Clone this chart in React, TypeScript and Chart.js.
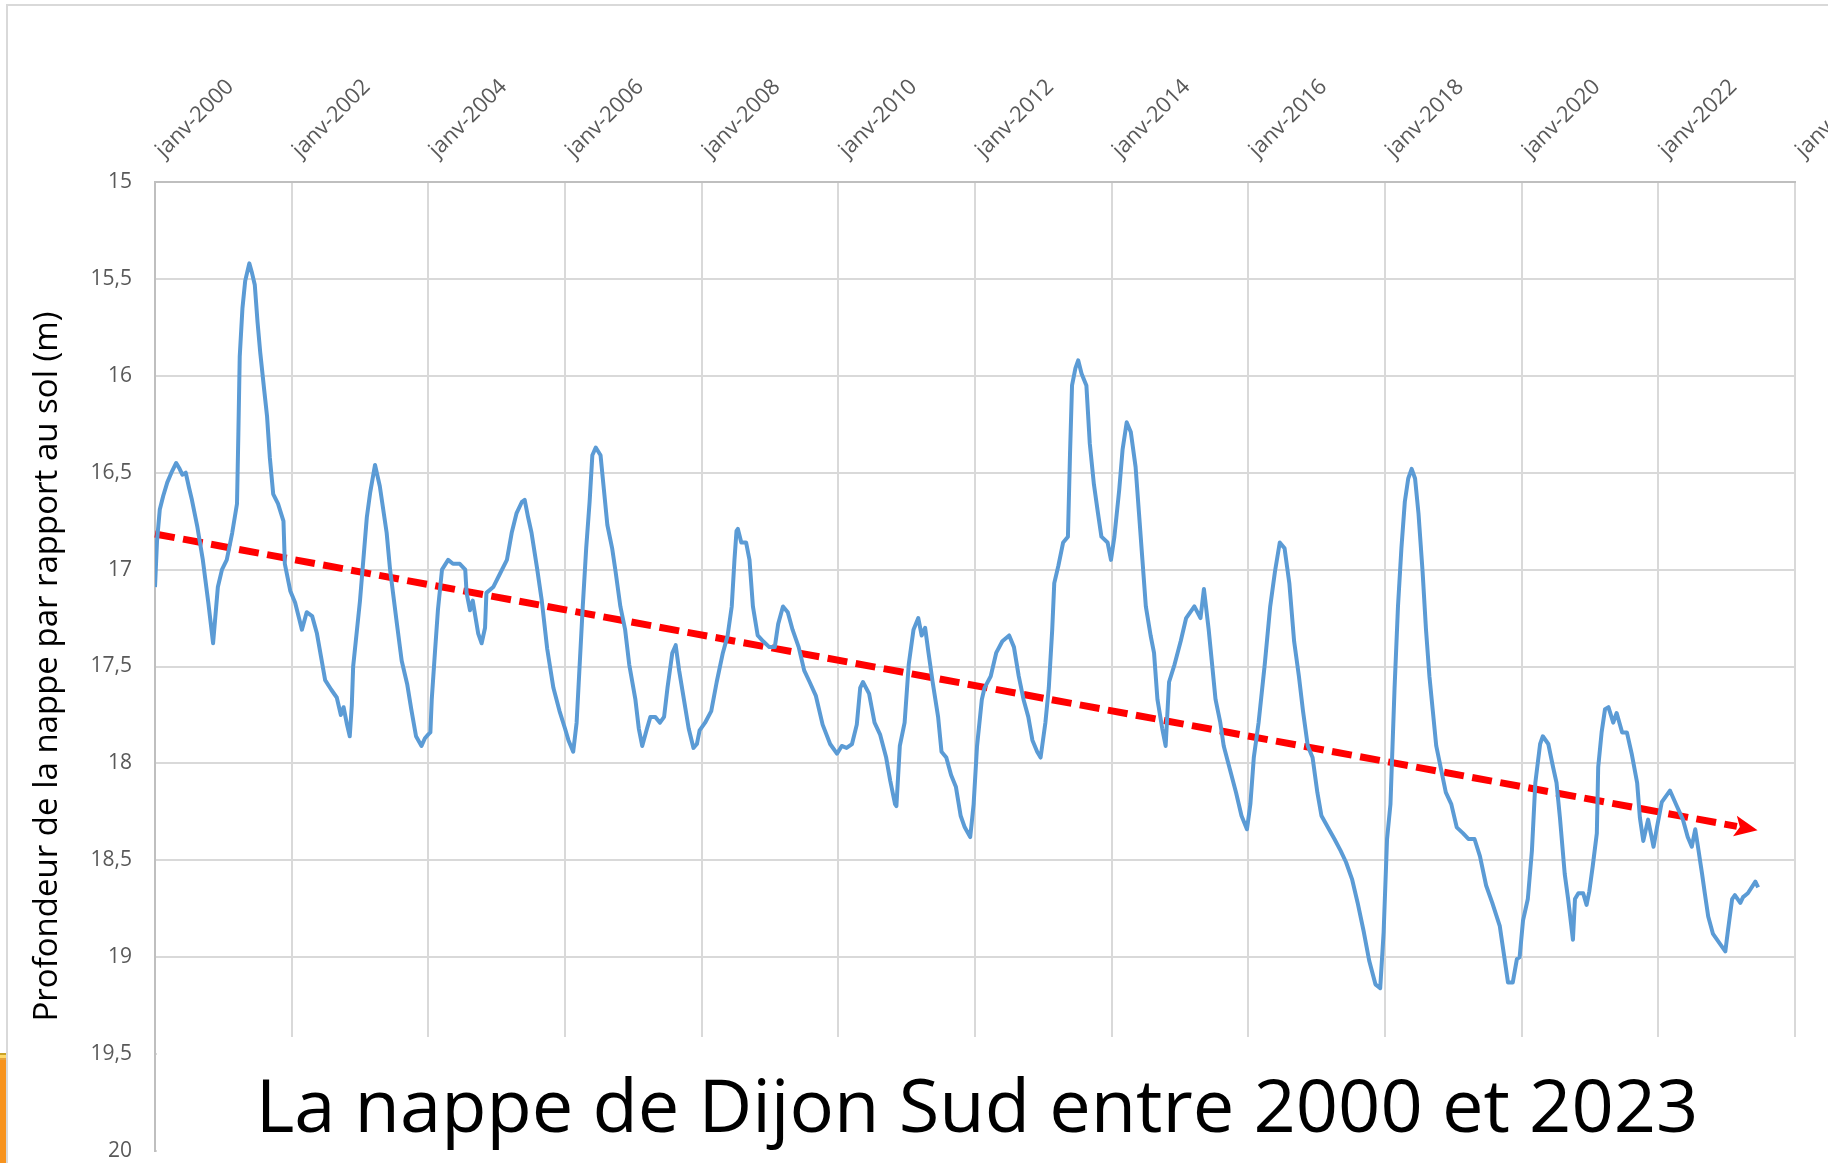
import React, { useEffect, useRef } from 'react';
import { Chart, registerables } from 'chart.js';

Chart.register(...registerables);

// Observation dates (decimal years) and groundwater depth below ground (m)
const obsDates = [
  2000.00, 2000.03, 2000.07, 2000.12, 2000.18, 2000.24, 2000.31, 2000.36, 2000.40, 2000.45,
  2000.50, 2000.54, 2000.62, 2000.70, 2000.78, 2000.85, 2000.92, 2000.98, 2001.05, 2001.13,
  2001.20, 2001.22, 2001.24, 2001.28, 2001.32, 2001.38, 2001.42, 2001.46, 2001.50, 2001.54,
  2001.60, 2001.64, 2001.68, 2001.73, 2001.80, 2001.88, 2001.90, 2001.98, 2002.05, 2002.10,
  2002.15, 2002.22, 2002.30, 2002.37, 2002.43, 2002.49, 2002.58, 2002.66, 2002.72, 2002.76,
  2002.81, 2002.85, 2002.88, 2002.90, 2003.00, 2003.10, 2003.15, 2003.22, 2003.29, 2003.39,
  2003.44, 2003.54, 2003.61, 2003.69, 2003.75, 2003.82, 2003.90, 2003.95, 2004.00, 2004.03,
  2004.05, 2004.10, 2004.14, 2004.20, 2004.29, 2004.36, 2004.46, 2004.54, 2004.56, 2004.61,
  2004.65, 2004.73, 2004.78, 2004.83, 2004.85, 2004.95, 2005.05, 2005.15, 2005.22, 2005.29,
  2005.37, 2005.41, 2005.46, 2005.51, 2005.59, 2005.66, 2005.74, 2005.83, 2005.92, 2006.00,
  2006.05, 2006.12, 2006.17, 2006.26, 2006.31, 2006.36, 2006.40, 2006.45, 2006.52, 2006.57,
  2006.62, 2006.69, 2006.74, 2006.81, 2006.88, 2006.94, 2007.03, 2007.08, 2007.13, 2007.20,
  2007.25, 2007.32, 2007.39, 2007.45, 2007.50, 2007.57, 2007.62, 2007.67, 2007.74, 2007.81,
  2007.88, 2007.93, 2007.97, 2008.05, 2008.14, 2008.22, 2008.31, 2008.38, 2008.44, 2008.48,
  2008.51, 2008.53, 2008.58, 2008.65, 2008.70, 2008.75, 2008.82, 2008.90, 2008.99, 2009.07,
  2009.12, 2009.19, 2009.26, 2009.33, 2009.42, 2009.50, 2009.58, 2009.67, 2009.77, 2009.88,
  2009.98, 2010.05, 2010.12, 2010.20, 2010.27, 2010.32, 2010.36, 2010.45, 2010.53, 2010.61,
  2010.70, 2010.76, 2010.83, 2010.85, 2010.90, 2010.97, 2011.03, 2011.10, 2011.17, 2011.22,
  2011.27, 2011.32, 2011.38, 2011.46, 2011.51, 2011.58, 2011.65, 2011.72, 2011.79, 2011.85,
  2011.93, 2011.98, 2012.03, 2012.10, 2012.14, 2012.23, 2012.31, 2012.40, 2012.50, 2012.57,
  2012.64, 2012.71, 2012.78, 2012.84, 2012.91, 2012.96, 2013.03, 2013.08, 2013.13, 2013.16,
  2013.22, 2013.29, 2013.36, 2013.39, 2013.42, 2013.47, 2013.51, 2013.56, 2013.63, 2013.68,
  2013.74, 2013.80, 2013.85, 2013.94, 2013.99, 2014.04, 2014.11, 2014.16, 2014.22, 2014.28,
  2014.35, 2014.40, 2014.45, 2014.50, 2014.57, 2014.62, 2014.67, 2014.74, 2014.79, 2014.84,
  2014.92, 2015.01, 2015.09, 2015.21, 2015.30, 2015.35, 2015.42, 2015.47, 2015.52, 2015.59,
  2015.64, 2015.73, 2015.82, 2015.90, 2015.98, 2016.03, 2016.08, 2016.15, 2016.24, 2016.32,
  2016.39, 2016.46, 2016.53, 2016.60, 2016.67, 2016.74, 2016.80, 2016.87, 2016.94, 2017.01,
  2017.07, 2017.18, 2017.26, 2017.35, 2017.43, 2017.52, 2017.60, 2017.69, 2017.77, 2017.86,
  2017.93, 2017.98, 2018.03, 2018.08, 2018.14, 2018.19, 2018.24, 2018.29, 2018.34, 2018.39,
  2018.44, 2018.49, 2018.55, 2018.60, 2018.65, 2018.70, 2018.75, 2018.82, 2018.89, 2018.97,
  2019.05, 2019.14, 2019.22, 2019.31, 2019.39, 2019.48, 2019.57, 2019.68, 2019.80, 2019.87,
  2019.93, 2019.97, 2020.02, 2020.09, 2020.15, 2020.20, 2020.27, 2020.31, 2020.39, 2020.46,
  2020.51, 2020.56, 2020.63, 2020.68, 2020.75, 2020.78, 2020.83, 2020.90, 2020.95, 2020.99,
  2021.04, 2021.10, 2021.12, 2021.17, 2021.22, 2021.27, 2021.34, 2021.39, 2021.47, 2021.54,
  2021.61, 2021.69, 2021.73, 2021.78, 2021.85, 2021.93, 2021.98, 2022.05, 2022.17, 2022.27,
  2022.36, 2022.43, 2022.49, 2022.54, 2022.58, 2022.64, 2022.68, 2022.73, 2022.80, 2022.90,
  2022.98, 2023.02, 2023.08, 2023.12, 2023.20, 2023.24, 2023.31, 2023.42, 2023.46,
];

const obsDepths = [
  17.09, 16.85, 16.69, 16.62, 16.55, 16.50, 16.45, 16.48, 16.51, 16.50,
  16.58, 16.64, 16.78, 16.95, 17.17, 17.38, 17.09, 17.00, 16.95, 16.81,
  16.66, 16.30, 15.90, 15.65, 15.51, 15.42, 15.47, 15.53, 15.72, 15.88,
  16.08, 16.21, 16.42, 16.61, 16.66, 16.75, 16.97, 17.11, 17.17, 17.24,
  17.31, 17.22, 17.24, 17.33, 17.45, 17.57, 17.62, 17.66, 17.75, 17.71,
  17.80, 17.86, 17.70, 17.50, 17.16, 16.73, 16.60, 16.46, 16.57, 16.81,
  17.00, 17.28, 17.47, 17.59, 17.72, 17.86, 17.91, 17.87, 17.85, 17.84,
  17.67, 17.41, 17.21, 17.00, 16.95, 16.97, 16.97, 17.00, 17.12, 17.21,
  17.16, 17.33, 17.38, 17.30, 17.12, 17.09, 17.02, 16.95, 16.81, 16.71,
  16.65, 16.64, 16.73, 16.81, 16.99, 17.16, 17.41, 17.61, 17.73, 17.82,
  17.88, 17.94, 17.79, 17.19, 16.89, 16.65, 16.41, 16.37, 16.41, 16.59,
  16.77, 16.89, 17.01, 17.19, 17.31, 17.49, 17.67, 17.82, 17.91, 17.82,
  17.76, 17.76, 17.79, 17.76, 17.61, 17.43, 17.39, 17.52, 17.67, 17.82,
  17.92, 17.90, 17.83, 17.79, 17.73, 17.58, 17.43, 17.34, 17.19, 16.95,
  16.80, 16.79, 16.86, 16.86, 16.95, 17.19, 17.34, 17.37, 17.40, 17.40,
  17.28, 17.19, 17.22, 17.31, 17.40, 17.52, 17.58, 17.65, 17.80, 17.90,
  17.95, 17.91, 17.92, 17.90, 17.80, 17.61, 17.58, 17.64, 17.79, 17.85,
  17.97, 18.09, 18.21, 18.22, 17.91, 17.79, 17.49, 17.31, 17.25, 17.34,
  17.30, 17.43, 17.58, 17.76, 17.94, 17.97, 18.06, 18.12, 18.27, 18.33,
  18.38, 18.21, 17.91, 17.67, 17.61, 17.55, 17.43, 17.37, 17.34, 17.40,
  17.55, 17.67, 17.76, 17.88, 17.94, 17.97, 17.79, 17.61, 17.31, 17.07,
  16.98, 16.86, 16.83, 16.41, 16.05, 15.96, 15.92, 15.99, 16.05, 16.35,
  16.56, 16.71, 16.83, 16.86, 16.95, 16.83, 16.59, 16.38, 16.24, 16.29,
  16.47, 16.71, 16.95, 17.19, 17.34, 17.43, 17.67, 17.82, 17.91, 17.58,
  17.49, 17.37, 17.25, 17.19, 17.25, 17.10, 17.31, 17.49, 17.67, 17.79,
  17.91, 18.03, 18.15, 18.27, 18.34, 18.21, 17.97, 17.79, 17.49, 17.19,
  17.01, 16.86, 16.89, 17.07, 17.37, 17.55, 17.73, 17.91, 17.97, 18.15,
  18.27, 18.34, 18.39, 18.45, 18.51, 18.60, 18.72, 18.87, 19.02, 19.14,
  19.16, 18.87, 18.39, 18.21, 17.61, 17.19, 16.89, 16.65, 16.53, 16.48,
  16.53, 16.71, 17.01, 17.31, 17.55, 17.73, 17.91, 18.03, 18.15, 18.21,
  18.33, 18.36, 18.39, 18.39, 18.48, 18.63, 18.72, 18.84, 19.13, 19.13,
  19.01, 19.00, 18.81, 18.70, 18.45, 18.10, 17.90, 17.86, 17.90, 18.02,
  18.10, 18.28, 18.57, 18.70, 18.91, 18.70, 18.67, 18.67, 18.73, 18.66,
  18.53, 18.36, 18.02, 17.84, 17.72, 17.71, 17.79, 17.74, 17.84, 17.84,
  17.95, 18.10, 18.28, 18.40, 18.29, 18.43, 18.33, 18.20, 18.14, 18.22,
  18.29, 18.38, 18.43, 18.34, 18.43, 18.57, 18.67, 18.79, 18.88, 18.93,
  18.97, 18.86, 18.70, 18.68, 18.72, 18.69, 18.67, 18.61, 18.64,
];

// Trend (dashed red arrow)
const trendDates = [2000, 2023.15];
const trendDepths = [16.816, 18.325];

// Axis ticks
const xTickYears = [2000, 2002, 2004, 2006, 2008, 2010, 2012, 2014, 2016, 2018, 2020, 2022, 2024];
const xTickPrefix = 'janv-';
const yTickValues = [15, 15.5, 16, 16.5, 17, 17.5, 18, 18.5, 19, 19.5, 20];

const yAxisTitle = 'Profondeur de la nappe par rapport au sol (m)';
const chartTitle = 'La nappe de Dijon Sud entre 2000 et 2023';

const FONT = "'Open Sans', 'Noto Sans', sans-serif";

const arrowPlugin = {
  id: 'trendArrow',
  afterDatasetsDraw(chart: any) {
    const meta = chart.getDatasetMeta(1);
    const pts = meta.data;
    if (!pts || pts.length < 2) return;
    const a = pts[pts.length - 2];
    const b = pts[pts.length - 1];
    const ang = Math.atan2(b.y - a.y, b.x - a.x);
    const ctx = chart.ctx;
    ctx.save();
    ctx.translate(b.x, b.y);
    ctx.rotate(ang);
    ctx.beginPath();
    ctx.moveTo(21, 0);
    ctx.lineTo(-2, -10.5);
    ctx.lineTo(3, 0);
    ctx.lineTo(-2, 10.5);
    ctx.closePath();
    ctx.fillStyle = '#FF0000';
    ctx.fill();
    ctx.restore();
  },
};

export default function App() {
  const canvasRef = useRef<HTMLCanvasElement | null>(null);

  useEffect(() => {
    if (!canvasRef.current) return;
    const levelData = obsDates.map((d, i) => ({ x: d, y: obsDepths[i] }));
    const trendData = trendDates.map((d, i) => ({ x: d, y: trendDepths[i] }));

    const chart = new Chart(canvasRef.current, {
      type: 'line',
      data: {
        datasets: [
          {
            data: levelData,
            borderColor: '#5B9BD5',
            borderWidth: 4,
            pointRadius: 0,
            tension: 0,
            borderJoinStyle: 'round',
            fill: false,
          },
          {
            data: trendData,
            borderColor: '#FF0000',
            borderWidth: 7,
            borderDash: [20, 8.5],
            borderCapStyle: 'butt',
            pointRadius: 0,
            tension: 0,
            fill: false,
            clip: false as any,
          },
        ],
      },
      options: {
        animation: false,
        responsive: false,
        events: [],
        layout: { padding: { left: 0, top: 0, right: 33, bottom: 12 } },
        plugins: {
          legend: { display: false },
          tooltip: { enabled: false },
          title: { display: false },
        },
        scales: {
          x: {
            type: 'linear',
            position: 'top',
            min: 2000,
            max: 2024,
            afterBuildTicks: (s: any) => {
              s.ticks = xTickYears.map((v) => ({ value: v }));
            },
            afterFit: (s: any) => {
              s.height = 182;
              s.paddingLeft = 0;
              s.paddingRight = 0;
            },
            grid: { color: '#d9d9d9', lineWidth: 2, drawTicks: false },
            border: { color: '#bfbfbf', width: 2 },
            ticks: {
              autoSkip: false,
              minRotation: 45,
              maxRotation: 45,
              padding: 27,
              labelOffset: 7,
              color: '#595959',
              font: { family: FONT, size: 22, lineHeight: 0.15 },
              callback: (v: any) => xTickPrefix + v,
            },
          },
          y: {
            type: 'linear',
            reverse: true,
            min: 15,
            max: 20,
            afterBuildTicks: (s: any) => {
              s.ticks = yTickValues.map((v) => ({ value: v }));
            },
            afterFit: (s: any) => {
              s.width = 155;
              s.paddingTop = 0;
              s.paddingBottom = 0;
            },
            grid: { color: '#d9d9d9', lineWidth: 2, drawTicks: false },
            border: { color: '#bfbfbf', width: 2 },
            ticks: {
              padding: 23,
              color: '#595959',
              font: { family: FONT, size: 21 },
              callback: (v: any) => String(v).replace('.', ','),
            },
            title: {
              display: true,
              text: yAxisTitle,
              color: '#000000',
              font: { family: FONT, size: 33 },
              padding: { top: 28, bottom: 0 },
            },
          },
        },
      },
      plugins: [arrowPlugin],
    } as any);

    return () => chart.destroy();
  }, []);

  return (
    <div
      style={{
        position: 'fixed',
        left: 0,
        top: 0,
        width: 1828,
        height: 1163,
        background: '#ffffff',
        overflow: 'hidden',
      }}
    >
      <canvas
        ref={canvasRef}
        width={1828}
        height={1163}
        style={{ position: 'absolute', left: 0, top: 0, width: 1828, height: 1163 }}
      />
      {/* slide frame */}
      <div
        style={{
          position: 'absolute',
          left: 6,
          top: 4,
          width: 1830,
          height: 1170,
          borderTop: '2px solid #d9d9d9',
          borderLeft: '2px solid #d9d9d9',
          boxSizing: 'border-box',
          pointerEvents: 'none',
        }}
      />
      {/* orange slide decoration */}
      <div
        style={{
          position: 'absolute',
          left: 0,
          top: 1053,
          width: 6,
          height: 110,
          background:
            'linear-gradient(#c9a227 0px, #c9a227 2px, #ffd966 2px, #ffd966 5px, #e6a23c 5px, #e6a23c 7px, #f7931e 7px)',
        }}
      />
      {/* title box */}
      <div
        style={{
          position: 'absolute',
          left: 157,
          top: 1037,
          width: 1640,
          height: 126,
          background: '#ffffff',
        }}
      >
        <div
          style={{
            position: 'absolute',
            left: 0,
            top: 29,
            width: '100%',
            textAlign: 'center',
            fontFamily: FONT,
            fontSize: 74,
            lineHeight: '75px',
            color: '#000000',
            whiteSpace: 'nowrap',
          }}
        >
          {chartTitle}
        </div>
      </div>
    </div>
  );
}
